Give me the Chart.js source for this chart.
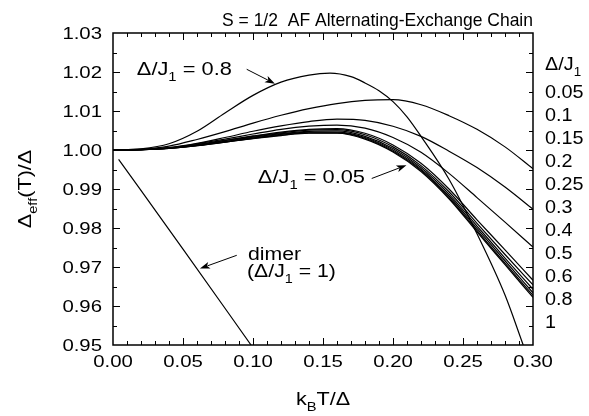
<!DOCTYPE html>
<html>
<head>
<meta charset="utf-8">
<script src="https://cdn.jsdelivr.net/npm/chart.js@4.4.1/dist/chart.umd.min.js"></script>
<style>
  html, body { margin: 0; padding: 0; background: #fff; }
  #wrap { width: 589px; height: 416px; }
</style>
</head>
<body>
<div id="wrap"><canvas id="myChart" width="589" height="416"></canvas></div>
<script>
//========================= Data ==================================//

// temperature grid k_B T / Delta shared by most curves
const tGrid = [0, 0.02, 0.04, 0.06, 0.08, 0.10, 0.12, 0.14, 0.16, 0.18, 0.20, 0.22, 0.24, 0.26, 0.28, 0.30];

// Delta_eff(T)/Delta for each Delta/J1
const r005 = [1.0000, 1.0001, 1.0004, 1.0011, 1.0020, 1.0029, 1.0037, 1.0043, 1.0043, 1.0028, 0.9995, 0.9945, 0.9875, 0.9790, 0.9706, 0.9622];
const r010 = [1.0000, 1.0001, 1.0004, 1.0011, 1.0020, 1.0030, 1.0038, 1.0044, 1.0044, 1.0030, 0.9997, 0.9948, 0.9878, 0.9794, 0.9710, 0.9627];
const r015 = [1.0000, 1.0001, 1.0004, 1.0012, 1.0021, 1.0031, 1.0040, 1.0046, 1.0046, 1.0032, 1.0000, 0.9951, 0.9882, 0.9799, 0.9716, 0.9634];
const r020 = [1.0000, 1.0001, 1.0005, 1.0012, 1.0022, 1.0033, 1.0042, 1.0048, 1.0049, 1.0035, 1.0004, 0.9955, 0.9887, 0.9805, 0.9723, 0.9643];
const r025 = [1.0000, 1.0001, 1.0005, 1.0013, 1.0024, 1.0035, 1.0044, 1.0051, 1.0052, 1.0039, 1.0008, 0.9960, 0.9893, 0.9812, 0.9732, 0.9654];
const r030 = [1.0000, 1.0001, 1.0005, 1.0014, 1.0025, 1.0036, 1.0046, 1.0053, 1.0055, 1.0043, 1.0013, 0.9966, 0.9900, 0.9821, 0.9744, 0.9666];
const r040 = [1.0000, 1.0001, 1.0006, 1.0016, 1.0028, 1.0041, 1.0053, 1.0061, 1.0064, 1.0056, 1.0032, 0.9994, 0.9940, 0.9878, 0.9815, 0.9751];
const r050 = [1.0000, 1.0001, 1.0006, 1.0017, 1.0032, 1.0048, 1.0062, 1.0073, 1.0079, 1.0076, 1.0061, 1.0035, 0.9997, 0.9955, 0.9905, 0.9848];
const r060 = [1.0000, 1.0002, 1.0010, 1.0027, 1.0047, 1.0069, 1.0089, 1.0106, 1.0119, 1.0127, 1.0129, 1.0116, 1.0088, 1.0053, 1.0008, 0.9952];

// Delta/J1 = 0.8 has its own grid (leaves the frame near 0.293)
const t080 = [0, 0.02, 0.04, 0.06, 0.08, 0.10, 0.12, 0.14, 0.155, 0.17, 0.18, 0.19, 0.20, 0.21, 0.22, 0.24, 0.26, 0.28, 0.293];
const r080 = [1.0000, 1.0003, 1.0016, 1.0048, 1.0095, 1.0140, 1.0174, 1.0192, 1.0197, 1.0188, 1.0172, 1.0152, 1.0124, 1.0085, 1.0035, 0.9925, 0.9785, 0.9628, 0.9500];

// dimer limit (Delta/J1 = 1)
const tDimer = [0.004, 0.05, 0.0986];
const rDimer = [0.9976, 0.9746, 0.9500];

// labels
const ratioLabels = ['0.05', '0.1', '0.15', '0.2', '0.25', '0.3', '0.4', '0.5', '0.6', '0.8', '1'];
const xTickValues = [0, 0.05, 0.10, 0.15, 0.20, 0.25, 0.30];
const yTickValues = [0.95, 0.96, 0.97, 0.98, 0.99, 1.00, 1.01, 1.02, 1.03];

//========================= Helpers ==================================//

const FONT = '"Liberation Sans", Arial, Helvetica, sans-serif';
const SX = 1.2; // glyphs in the reference are a bit wider than Arial

function toPoints(xs, ys) {
  return xs.map((x, i) => ({ x: x, y: ys[i] }));
}

function lineSet(xs, ys) {
  return {
    data: toPoints(xs, ys),
    showLine: true,
    borderColor: '#000',
    borderWidth: 1.2,
    pointRadius: 0,
    fill: false,
    cubicInterpolationMode: 'monotone'
  };
}

// parts: [[text, isSub], ...]
function richWidth(ctx, parts, size) {
  let w = 0;
  parts.forEach(p => {
    ctx.font = (p[1] ? size * 0.68 : size) + 'px ' + FONT;
    w += ctx.measureText(p[0]).width;
  });
  return w;
}

function drawRich(ctx, parts, x, y, size, align, sx) {
  sx = sx || SX;
  const w = richWidth(ctx, parts, size) * sx;
  let left = x;
  if (align === 'center') left = x - w / 2;
  if (align === 'right') left = x - w;
  ctx.save();
  ctx.translate(left, y);
  ctx.scale(sx, 1);
  ctx.fillStyle = '#000';
  ctx.textBaseline = 'alphabetic';
  ctx.textAlign = 'left';
  let px = 0;
  parts.forEach(p => {
    const s = p[1] ? size * 0.68 : size;
    ctx.font = s + 'px ' + FONT;
    ctx.fillText(p[0], px, p[1] ? size * 0.32 : 0);
    px += ctx.measureText(p[0]).width;
  });
  ctx.restore();
}

// stretch the text so that it spans exactly left..right
function drawRichFit(ctx, parts, left, right, y, size) {
  const sx = (right - left) / richWidth(ctx, parts, size);
  drawRich(ctx, parts, left, y, size, 'left', sx);
}

function drawArrow(ctx, x1, y1, x2, y2) {
  const a = Math.atan2(y2 - y1, x2 - x1);
  const len = 10, half = 3.5;
  ctx.save();
  ctx.strokeStyle = '#000';
  ctx.fillStyle = '#000';
  ctx.lineWidth = 1;
  ctx.beginPath();
  ctx.moveTo(x1, y1);
  ctx.lineTo(x2 - Math.cos(a) * len * 0.8, y2 - Math.sin(a) * len * 0.8);
  ctx.stroke();
  ctx.beginPath();
  ctx.moveTo(x2, y2);
  ctx.lineTo(x2 - Math.cos(a) * len + Math.sin(a) * half, y2 - Math.sin(a) * len - Math.cos(a) * half);
  ctx.lineTo(x2 - Math.cos(a) * len * 0.75, y2 - Math.sin(a) * len * 0.75);
  ctx.lineTo(x2 - Math.cos(a) * len - Math.sin(a) * half, y2 - Math.sin(a) * len + Math.cos(a) * half);
  ctx.closePath();
  ctx.fill();
  ctx.restore();
}

//========================= Frame, ticks and text ==================================//

const framePlugin = {
  id: 'frameAndText',
  afterDraw(chart) {
    const ctx = chart.ctx;
    const area = chart.chartArea;
    const xs = chart.scales.x;
    const ys = chart.scales.y;
    const X = v => xs.getPixelForValue(v);
    const Y = v => ys.getPixelForValue(v);

    // box
    ctx.save();
    ctx.strokeStyle = '#000';
    ctx.lineWidth = 1.5;
    ctx.strokeRect(area.left, area.top, area.right - area.left, area.bottom - area.top);

    // inward ticks, x: minor every 0.01, y: minor every 0.005
    ctx.lineWidth = 1;
    ctx.beginPath();
    for (let i = 1; i < 30; i++) {
      const px = Math.round(X(i / 100)) + 0.5;
      const len = i % 5 === 0 ? 7 : 4;
      ctx.moveTo(px, area.bottom); ctx.lineTo(px, area.bottom - len);
      ctx.moveTo(px, area.top); ctx.lineTo(px, area.top + len);
    }
    for (let i = 1; i < 16; i++) {
      const py = Math.round(Y(0.95 + i * 0.005)) + 0.5;
      const len = i % 2 === 0 ? 7 : 4;
      ctx.moveTo(area.left, py); ctx.lineTo(area.left + len, py);
      ctx.moveTo(area.right, py); ctx.lineTo(area.right - len, py);
    }
    ctx.stroke();
    ctx.restore();

    // tick labels
    yTickValues.forEach(v => {
      drawRich(ctx, [[v.toFixed(2)]], area.left - 11, Y(v) + 6, 16.3, 'right', 1.25);
    });
    xTickValues.forEach(v => {
      drawRich(ctx, [[v.toFixed(2)]], X(v), area.bottom + 22, 16.3, 'center', 1.25);
    });

    // axis titles
    drawRich(ctx, [['k'], ['B', true], ['T/\u0394']], (area.left + area.right) / 2, area.bottom + 60, 18, 'center');
    ctx.save();
    ctx.translate(31, (area.top + area.bottom) / 2);
    ctx.rotate(-Math.PI / 2);
    drawRich(ctx, [['\u0394'], ['eff', true], ['(T)/\u0394']], 0, 0, 18, 'center');
    ctx.restore();

    // title, spans from about x = 222 to the right edge of the frame
    drawRichFit(ctx, [['S = 1/2  AF Alternating-Exchange Chain']], 222, area.right, 26, 19);

    // list of Delta/J1 values on the right
    const lx = area.right + 12;
    drawRich(ctx, [['\u0394/J'], ['1', true]], lx, 70, 18, 'left', 1.1);
    ratioLabels.forEach((s, i) => {
      drawRich(ctx, [[s]], lx, 98 + i * 23, 18, 'left', 1.1);
    });

    // annotations
    drawRich(ctx, [['\u0394/J'], ['1', true], [' = 0.8']], X(0.017), Y(1.0193), 18.5, 'left', 1.18);
    drawArrow(ctx, X(0.0955), Y(1.0207), X(0.1157), Y(1.0170));

    drawRich(ctx, [['\u0394/J'], ['1', true], [' = 0.05']], X(0.180), Y(0.9915), 18.5, 'right', 1.18);
    drawArrow(ctx, X(0.1848), Y(0.9927), X(0.2096), Y(0.9961));

    drawRich(ctx, [['dimer']], X(0.0964), Y(0.9717), 18, 'left', 1.18);
    drawRich(ctx, [['(\u0394/J'], ['1', true], [' = 1)']], X(0.0957), Y(0.96735), 18, 'left', 1.18);
    drawArrow(ctx, X(0.0884), Y(0.9730), X(0.0621), Y(0.9696));
  }
};

//========================= Chart ==================================//

const ctx = document.getElementById('myChart').getContext('2d');

const myChart = new Chart(ctx, {
  type: 'scatter',
  data: {
    datasets: [
      lineSet(tGrid, r005),
      lineSet(tGrid, r010),
      lineSet(tGrid, r015),
      lineSet(tGrid, r020),
      lineSet(tGrid, r025),
      lineSet(tGrid, r030),
      lineSet(tGrid, r040),
      lineSet(tGrid, r050),
      lineSet(tGrid, r060),
      lineSet(t080, r080),
      lineSet(tDimer, rDimer)
    ]
  },
  options: {
    responsive: false,
    animation: false,
    devicePixelRatio: 1,
    layout: { padding: { top: 33, right: 56, left: 0, bottom: 0 } },
    plugins: {
      legend: { display: false },
      tooltip: { enabled: false },
      title: { display: false }
    },
    scales: {
      x: {
        type: 'linear',
        min: 0,
        max: 0.30,
        ticks: { display: false, stepSize: 0.05 },
        grid: { display: false },
        border: { display: false },
        afterFit: s => { s.height = 71; }
      },
      y: {
        type: 'linear',
        min: 0.95,
        max: 1.03,
        ticks: { display: false, stepSize: 0.01 },
        grid: { display: false },
        border: { display: false },
        afterFit: s => { s.width = 113; }
      }
    }
  },
  plugins: [framePlugin]
});
</script>
</body>
</html>
